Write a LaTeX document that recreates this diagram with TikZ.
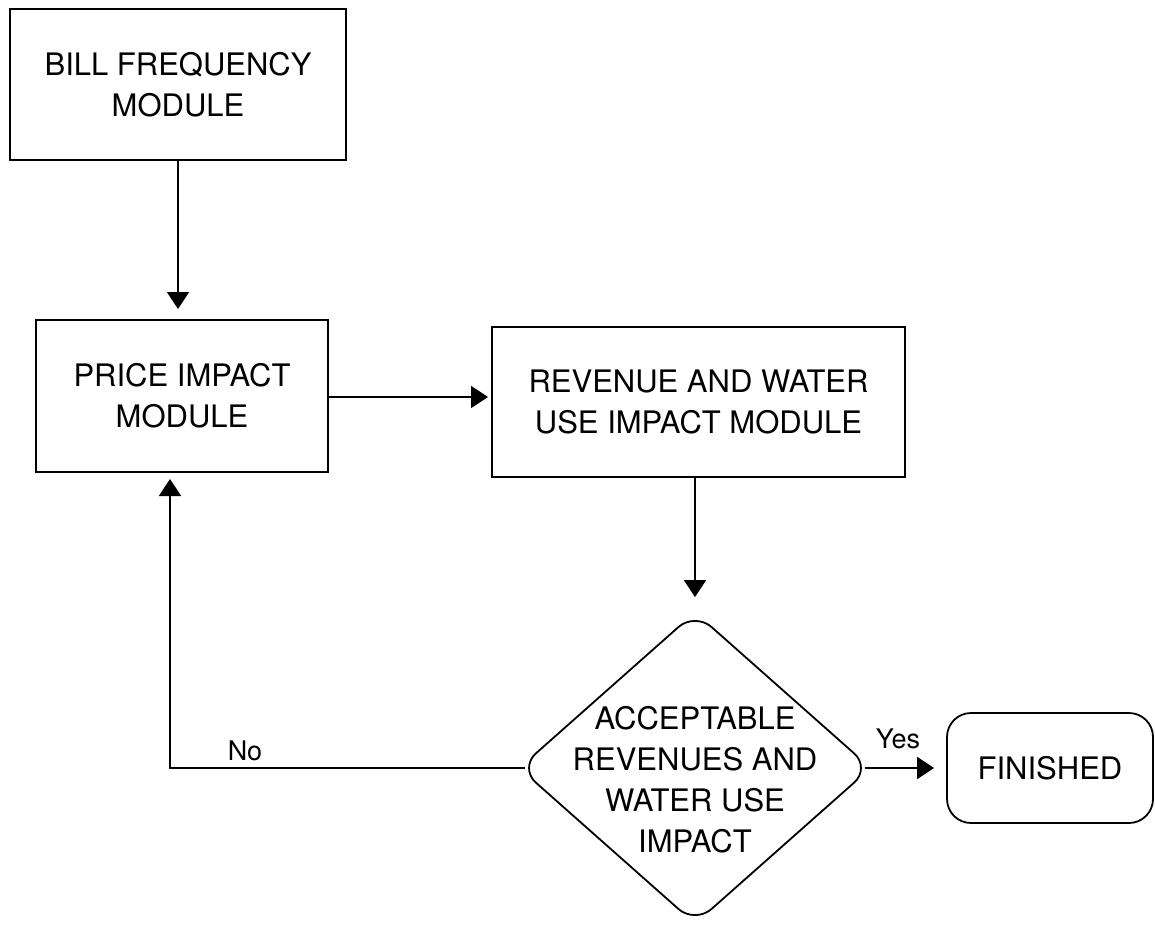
\documentclass[tikz,border=0pt]{standalone}
\usepackage{fontspec}
\setmainfont{TeX Gyre Heros}
\usetikzlibrary{arrows.meta,shapes.geometric}
\begin{document}
\begin{tikzpicture}[x=1pt,y=-1pt,
  every node/.style={font=\fontsize{31}{41}\selectfont},
  box/.style={draw,line width=2pt,rectangle,align=center,inner sep=0pt},
  conn/.style={line width=1.8pt,-{Triangle[length=17pt,width=22pt]}},
  lab/.style={font=\fontsize{27}{30}\selectfont,inner sep=0pt}]
\useasboundingbox (0,0) rectangle (1155,925);
\node[box,minimum width=336pt,minimum height=151pt] (bill) at (178,84.5) {BILL FREQUENCY\\MODULE};
\node[box,minimum width=292pt,minimum height=152pt] (price) at (182,396) {PRICE IMPACT\\MODULE};
\node[box,minimum width=413pt,minimum height=150pt] (rev) at (698.5,402) {REVENUE AND WATER\\USE IMPACT MODULE};
\node[draw,line width=1.8pt,diamond,rounded corners=22pt,minimum width=352pt,minimum height=312pt,inner sep=0pt] (dec) at (695,768) {};
\node[align=center,inner sep=0pt] (dectext) at (695,780) {ACCEPTABLE\\REVENUES AND\\WATER USE\\IMPACT};
\node[box,line width=1.8pt,rounded corners=24pt,minimum width=206pt,minimum height=110pt] (fin) at (1050,768) {FINISHED};
\draw[conn,shorten >=10pt] (bill.south) -- (price.north -| bill.south);
\draw[conn,shorten >=3pt] (price.east |- 0,397) -- (rev.west |- 0,397);
\draw[conn,shorten >=14pt] (rev.south -| dec.north) -- (dec.north);
\coordinate (corner) at (170,768);
\draw[conn,shorten >=6pt] ([xshift=7pt]dec.west) -- (corner) -- (corner |- price.south);
\draw[conn,shorten >=12pt] ([xshift=-7pt]dec.east) -- (fin.west);
\node[lab] (no) at (245,751) {No};
\node[lab] (yes) at (898,739) {Yes};
\end{tikzpicture}
\end{document}
